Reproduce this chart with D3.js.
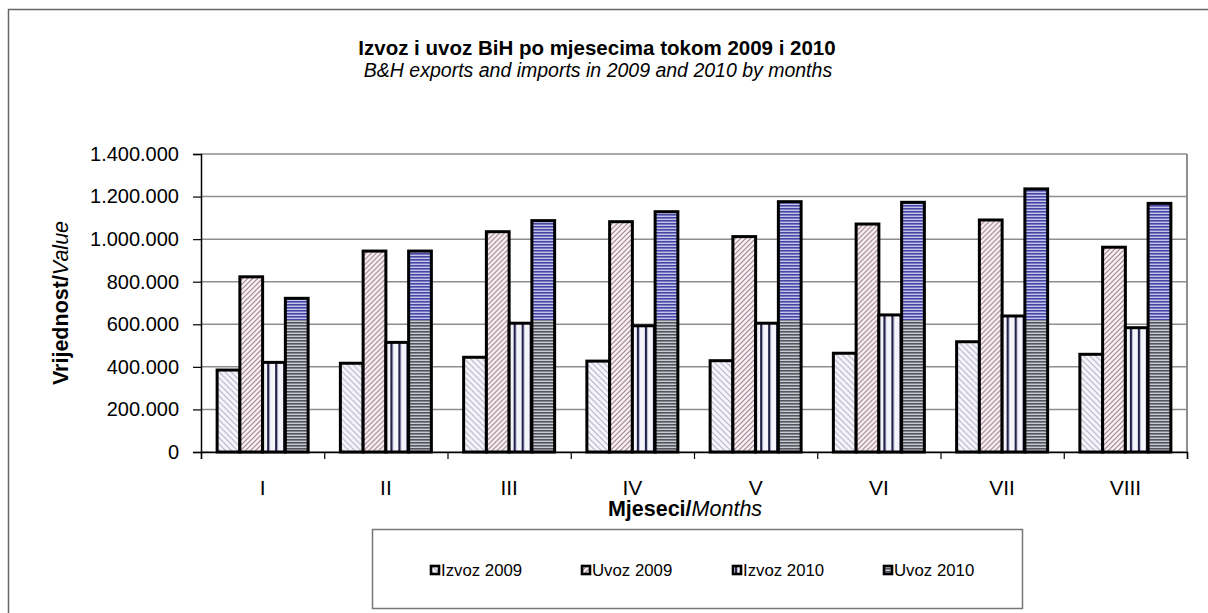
<!DOCTYPE html>
<html>
<head>
<meta charset="utf-8">
<script src="https://cdn.jsdelivr.net/npm/d3@7"></script>
<style>
  body { margin: 0; background: #fff; }
  svg { display: block; font-family: "Liberation Sans", Arial, sans-serif; }
</style>
</head>
<body>
<svg id="chart" width="1208" height="613"></svg>
<script>
// Months (roman numerals) and series values
const months = ["I", "II", "III", "IV", "V", "VI", "VII", "VIII"];
const seriesNames = ["Izvoz 2009", "Uvoz 2009", "Izvoz 2010", "Uvoz 2010"];
const izvoz2009 = [385000, 417000, 445000, 427000, 429000, 464000, 518000, 459000];
const uvoz2009 = [823000, 944000, 1035000, 1082000, 1012000, 1071000, 1090000, 962000];
const izvoz2010 = [421000, 515000, 605000, 593000, 605000, 644000, 639000, 584000];
const uvoz2010 = [722000, 944000, 1087000, 1129000, 1176000, 1173000, 1236000, 1168000];
const yTicks = [0, 200000, 400000, 600000, 800000, 1000000, 1200000, 1400000];

const values = [izvoz2009, uvoz2009, izvoz2010, uvoz2010];
const shadeSplit = 620000; // Uvoz 2010 fill turns blue above this level

const margin = { top: 154, right: 21, bottom: 161, left: 201 };
const width = 1208 - margin.left - margin.right;
const height = 613 - margin.top - margin.bottom;

const svg = d3.select("#chart");

// Fill patterns
const defs = svg.append("defs");

function stripePattern(id, size, bg, draw) {
    const p = defs.append("pattern")
        .attr("id", id)
        .attr("patternUnits", "userSpaceOnUse")
        .attr("width", size)
        .attr("height", size);
    p.append("rect").attr("width", size).attr("height", size).attr("fill", bg);
    draw(p);
}

stripePattern("p-izvoz09", 6, "#f6f6fa", p => {
    p.append("path").attr("d", "M0,0 L6,6 M-3,3 L0,6 M3,-3 L9,3")
        .attr("stroke", "#b4b4cc").attr("stroke-width", 1.2);
});
stripePattern("p-uvoz09", 5, "#fbf3f5", p => {
    p.append("path").attr("d", "M0,5 L5,0 M-2,2 L2,-2 M3,7 L7,3")
        .attr("stroke", "#9a7d8b").attr("stroke-width", 1.1);
});
stripePattern("p-izvoz10", 8, "#f4f4fa", p => {
    p.append("rect").attr("x", 2).attr("width", 2).attr("height", 8).attr("fill", "#22224a");
    p.append("rect").attr("x", 4).attr("width", 1).attr("height", 8).attr("fill", "#b8b8d0");
});
stripePattern("p-uvoz10", 3, "#c9c9d1", p => {
    p.append("rect").attr("width", 3).attr("height", 1.6).attr("fill", "#54565f");
});
stripePattern("p-uvoz10-top", 3, "#c4c4ea", p => {
    p.append("rect").attr("width", 3).attr("height", 1.6).attr("fill", "#4646a6");
});

const fills = ["url(#p-izvoz09)", "url(#p-uvoz09)", "url(#p-izvoz10)", "url(#p-uvoz10)"];

// Outer chart frame
svg.append("rect")
    .attr("x", 8.5).attr("y", 9.5)
    .attr("width", 1240).attr("height", 640)
    .attr("fill", "none")
    .attr("stroke", "#666")
    .attr("stroke-width", 1.5);

// Titles
svg.append("text")
    .attr("x", 597).attr("y", 55)
    .attr("text-anchor", "middle")
    .attr("font-size", 20.5).attr("font-weight", "bold")
    .text("Izvoz i uvoz BiH po mjesecima tokom 2009 i 2010");

svg.append("text")
    .attr("x", 598).attr("y", 77)
    .attr("text-anchor", "middle")
    .attr("font-size", 19.5).attr("font-style", "italic")
    .text("B&H exports and imports in 2009 and 2010 by months");

const g = svg.append("g")
    .attr("transform", `translate(${margin.left}, ${margin.top})`);

// Scales
const x0 = d3.scaleBand().domain(months).range([0, width])
    .paddingInner(0.2617).paddingOuter(0.13085);
const x1 = d3.scaleBand().domain(d3.range(seriesNames.length)).range([0, x0.bandwidth()]);
const xEdge = d3.scaleLinear().domain([0, months.length]).range([0, width]);
const y = d3.scaleLinear().domain([0, 1400000]).range([height, 0]);

const locale = d3.formatLocale({ decimal: ",", thousands: ".", grouping: [3], currency: ["", ""] });
const fmt = locale.format(",");

// Gridlines
g.append("g")
    .selectAll("line")
    .data(yTicks)
    .enter()
    .append("line")
    .attr("x1", 0).attr("x2", width)
    .attr("y1", d => y(d)).attr("y2", d => y(d))
    .attr("stroke", "#8e8e8e")
    .attr("stroke-width", 1.5);

// Right border of plot area
g.append("line")
    .attr("x1", width).attr("x2", width)
    .attr("y1", 0).attr("y2", height)
    .attr("stroke", "#8e8e8e")
    .attr("stroke-width", 2);

// Bars
const groups = g.selectAll(".month")
    .data(months)
    .enter()
    .append("g")
    .attr("class", "month")
    .attr("transform", d => `translate(${x0(d)}, 0)`);

groups.each(function (m, i) {
    const grp = d3.select(this);
    values.forEach((vals, s) => {
        const v = vals[i];
        const bx = x1(s);
        const bw = x1.bandwidth();
        grp.append("rect")
            .attr("x", bx).attr("y", y(v))
            .attr("width", bw).attr("height", height - y(v))
            .attr("fill", fills[s]);
        if (s === 3 && v > shadeSplit) {
            grp.append("rect")
                .attr("x", bx).attr("y", y(v))
                .attr("width", bw).attr("height", y(shadeSplit) - y(v))
                .attr("fill", "url(#p-uvoz10-top)");
        }
        grp.append("rect")
            .attr("x", bx).attr("y", y(v))
            .attr("width", bw).attr("height", height - y(v))
            .attr("fill", "none")
            .attr("stroke", "#000")
            .attr("stroke-width", 3);
    });
});

// Y axis
const yAxis = g.append("g")
    .call(d3.axisLeft(y).tickValues(yTicks).tickFormat(fmt).tickSize(8).tickPadding(14));
yAxis.select(".domain").attr("stroke", "#000").attr("stroke-width", 1.5);
yAxis.selectAll(".tick line").attr("stroke", "#000").attr("stroke-width", 1.2);
yAxis.selectAll("text").attr("font-size", 20).attr("fill", "#000")
    .style("font-family", "'Liberation Sans', Arial, sans-serif");

// X axis: tick marks at month boundaries, labels centred on months
const xTickAxis = g.append("g")
    .attr("transform", `translate(0, ${height})`)
    .call(d3.axisBottom(xEdge).ticks(months.length).tickFormat("").tickSize(7));
xTickAxis.select(".domain").attr("stroke", "#000").attr("stroke-width", 1.5);
xTickAxis.selectAll(".tick line").attr("stroke", "#000").attr("stroke-width", 1.2);

const xLabelAxis = g.append("g")
    .attr("transform", `translate(0, ${height})`)
    .call(d3.axisBottom(x0).tickSize(0));
xLabelAxis.select(".domain").remove();
xLabelAxis.selectAll("text")
    .attr("y", 43).attr("dy", 0)
    .attr("font-size", 21).attr("fill", "#000")
    .style("font-family", "'Liberation Sans', Arial, sans-serif");

// Axis titles
const xTitle = svg.append("text")
    .attr("x", 685).attr("y", 516)
    .attr("text-anchor", "middle")
    .attr("font-size", 21.5);
xTitle.append("tspan").attr("font-weight", "bold").text("Mjeseci/");
xTitle.append("tspan").attr("font-style", "italic").text("Months");

const yTitle = svg.append("text")
    .attr("transform", `translate(68, ${margin.top + height / 2}) rotate(-90)`)
    .attr("text-anchor", "middle")
    .attr("font-size", 21.5);
yTitle.append("tspan").attr("font-weight", "bold").text("Vrijednost/");
yTitle.append("tspan").attr("font-style", "italic").text("Value");

// Legend
svg.append("rect")
    .attr("x", 372.5).attr("y", 529.5)
    .attr("width", 650).attr("height", 79)
    .attr("fill", "#fff")
    .attr("stroke", "#777")
    .attr("stroke-width", 1.5);

const legendX = [431, 582, 733, 884];
const legend = svg.selectAll(".legend-item")
    .data(seriesNames)
    .enter()
    .append("g")
    .attr("class", "legend-item")
    .attr("transform", (d, i) => `translate(${legendX[i]}, 571)`);

legend.append("rect")
    .attr("x", 0).attr("y", -5)
    .attr("width", 8).attr("height", 8)
    .attr("fill", (d, i) => fills[i])
    .attr("stroke", "#000")
    .attr("stroke-width", 2.6);

legend.append("text")
    .attr("x", 10).attr("y", 5)
    .attr("font-size", 16.8)
    .text(d => d);
</script>
</body>
</html>
